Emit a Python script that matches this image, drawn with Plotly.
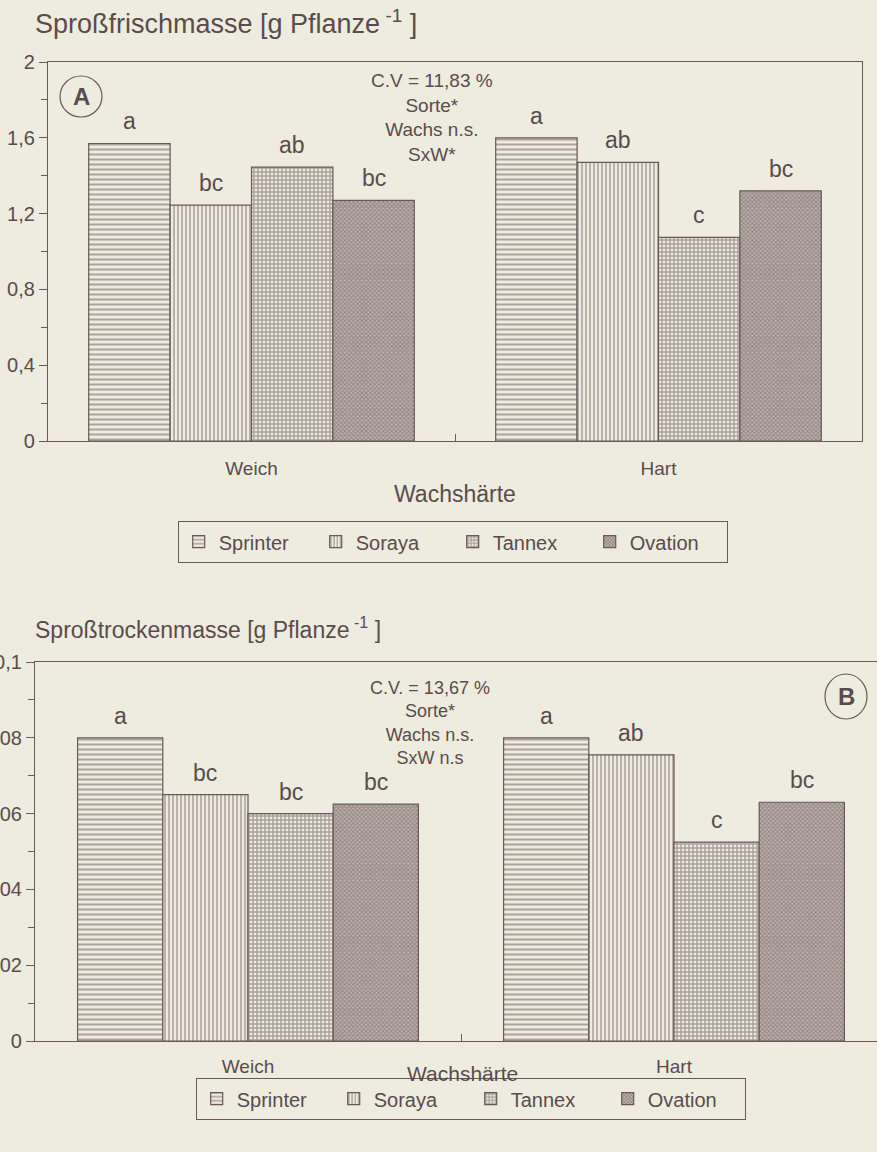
import plotly.graph_objects as go

# ---- data -------------------------------------------------------------
groups = ["Weich", "Hart"]
varieties = ["Sprinter", "Soraya", "Tannex", "Ovation"]

# Sproßfrischmasse [g Pflanze^-1]
fresh = {
    "Sprinter": [1.57, 1.60],
    "Soraya": [1.245, 1.47],
    "Tannex": [1.445, 1.075],
    "Ovation": [1.27, 1.32],
}
fresh_letters = {
    "Sprinter": ["a", "a"],
    "Soraya": ["bc", "ab"],
    "Tannex": ["ab", "c"],
    "Ovation": ["bc", "bc"],
}

# Sproßtrockenmasse [g Pflanze^-1]
dry = {
    "Sprinter": [0.080, 0.080],
    "Soraya": [0.065, 0.0755],
    "Tannex": [0.060, 0.0525],
    "Ovation": [0.0625, 0.063],
}
dry_letters = {
    "Sprinter": ["a", "a"],
    "Soraya": ["bc", "ab"],
    "Tannex": ["bc", "c"],
    "Ovation": ["bc", "bc"],
}

stats_a = ["C.V = 11,83 %", "Sorte*", "Wachs n.s.", "SxW*"]
stats_b = ["C.V. = 13,67 %", "Sorte*", "Wachs n.s.", "SxW n.s"]

# ---- styling ----------------------------------------------------------
W, H = 877, 1152
BG = "#eeecdf"
INK = "#6a5759"
TXT = "#5a4b4c"
FONT = "Arial, Liberation Sans, sans-serif"

# hatch fill per variety: (base colour, pattern)
fills = {
    "Sprinter": (BG, dict(shape="-", size=5, solidity=0.4)),
    "Soraya": (BG, dict(shape="|", size=4, solidity=0.4)),
    "Tannex": (BG, dict(shape="+", size=4, solidity=0.6)),
    "Ovation": ("#bdb2ad", dict(shape="x", size=3, solidity=0.55)),
}

BARGAP = 0.2
n = len(varieties)
slot = (1 - BARGAP) / n


def px_x(v):
    return v / W


def px_y(v):
    return 1 - v / H


fig = go.Figure()
annotations = []

panels = [
    (fresh, fresh_letters, "x", "y", "legend"),
    (dry, dry_letters, "x2", "y2", "legend2"),
]

for data, letters, xa, ya, leg in panels:
    for i, v in enumerate(varieties):
        base, pat = fills[v]
        fig.add_trace(go.Bar(
            name=v,
            x=groups,
            y=data[v],
            xaxis=xa,
            yaxis=ya,
            legend=leg,
            marker=dict(
                color=base,
                line=dict(color=INK, width=1.2),
                pattern=dict(fgcolor=INK, fillmode="overlay", **pat),
            ),
        ))
        off = -0.5 * (1 - BARGAP) + slot * (i + 0.5)
        for g, (val, lab) in enumerate(zip(data[v], letters[v])):
            annotations.append(dict(
                x=g + off, y=val, xref=xa, yref=ya, text=lab,
                showarrow=False, yanchor="bottom", yshift=7,
                font=dict(size=23, color=TXT, family=FONT),
            ))

axis_common = dict(
    showline=True, linecolor=INK, linewidth=1.2, mirror=True,
    showgrid=False, zeroline=False, automargin=False,
)
ytick_font = dict(size=20, color=TXT, family=FONT)
xtick_font = dict(size=19, color=TXT, family=FONT)

legend_style = dict(
    orientation="h", xanchor="center", yanchor="middle",
    bordercolor=INK, borderwidth=1.2, bgcolor="rgba(0,0,0,0)",
    entrywidth=92, entrywidthmode="pixels",
    font=dict(size=20, color=TXT, family=FONT),
)

fig.update_layout(
    width=W, height=H,
    margin=dict(l=0, r=0, t=0, b=0),
    paper_bgcolor=BG, plot_bgcolor=BG,
    separators=",.",
    barmode="group", bargap=BARGAP, bargroupgap=0,
    font=dict(family=FONT, color=TXT),
    # panel A
    xaxis=dict(domain=[px_x(48), px_x(862)], anchor="y",
               ticks="inside", tickson="boundaries", ticklen=7,
               tickcolor=INK, ticklabelstandoff=10, tickfont=xtick_font,
               **axis_common),
    yaxis=dict(domain=[px_y(441), px_y(62)], anchor="x",
               range=[0, 2], dtick=0.4, ticks="outside", ticklen=8,
               tickcolor=INK, tickfont=ytick_font,
               minor=dict(dtick=0.2, ticks="outside", ticklen=6,
                          tickcolor=INK),
               **axis_common),
    # panel B
    xaxis2=dict(domain=[px_x(35), 1.0], anchor="y2",
                range=[-0.5, -0.5 + (877 - 35) / 426.0],
                ticks="inside", tickson="boundaries", ticklen=7,
                tickcolor=INK, ticklabelstandoff=8, tickfont=xtick_font,
                **axis_common),
    yaxis2=dict(domain=[px_y(1041), px_y(662)], anchor="x2",
                range=[0, 0.1], dtick=0.02, ticks="outside", ticklen=8,
                tickcolor=INK, tickfont=ytick_font,
                minor=dict(dtick=0.01, ticks="outside", ticklen=6,
                           tickcolor=INK),
                **axis_common),
    legend=dict(x=px_x(453), y=px_y(542), **legend_style),
    legend2=dict(x=px_x(471), y=px_y(1099), **legend_style),
    showlegend=True,
)

# panel titles
annotations += [
    dict(x=px_x(33), y=px_y(22), xref="paper", yref="paper", xanchor="left",
         yanchor="middle", showarrow=False,
         text="Sproßfrischmasse [g Pflanze<sup> -1</sup> ]",
         font=dict(size=27, color=TXT, family=FONT)),
    dict(x=px_x(33), y=px_y(628), xref="paper", yref="paper", xanchor="left",
         yanchor="middle", showarrow=False,
         text="Sproßtrockenmasse [g Pflanze<sup> -1</sup> ]",
         font=dict(size=23, color=TXT, family=FONT)),
    # axis titles
    dict(x=px_x(455), y=px_y(494), xref="paper", yref="paper",
         xanchor="center", yanchor="middle", showarrow=False,
         text="Wachshärte", font=dict(size=23, color=TXT, family=FONT)),
    dict(x=px_x(462), y=px_y(1073), xref="paper", yref="paper",
         xanchor="center", yanchor="middle", showarrow=False,
         text="Wachshärte", font=dict(size=21, color=TXT, family=FONT)),
    # statistics
    dict(x=px_x(432), y=px_y(68), xref="paper", yref="paper",
         xanchor="center", yanchor="top", showarrow=False, align="center",
         text="<br>".join(stats_a), font=dict(size=19, color=TXT, family=FONT)),
    dict(x=px_x(430), y=px_y(676), xref="paper", yref="paper",
         xanchor="center", yanchor="top", showarrow=False, align="center",
         text="<br>".join(stats_b), font=dict(size=18, color=TXT, family=FONT)),
    # panel tags
    dict(x=px_x(81), y=px_y(96), xref="paper", yref="paper",
         xanchor="center", yanchor="middle", showarrow=False,
         text="<b>A</b>", font=dict(size=24, color=TXT, family=FONT)),
    dict(x=px_x(846), y=px_y(696), xref="paper", yref="paper",
         xanchor="center", yanchor="middle", showarrow=False,
         text="<b>B</b>", font=dict(size=24, color=TXT, family=FONT)),
]

fig.update_layout(
    annotations=annotations,
    shapes=[
        dict(type="circle", xref="paper", yref="paper",
             x0=px_x(60), x1=px_x(102), y0=px_y(76), y1=px_y(117),
             line=dict(color=INK, width=1.2)),
        dict(type="circle", xref="paper", yref="paper",
             x0=px_x(825), x1=px_x(867), y0=px_y(674), y1=px_y(719),
             line=dict(color=INK, width=1.2)),
    ],
)

fig.write_html("out.html")
